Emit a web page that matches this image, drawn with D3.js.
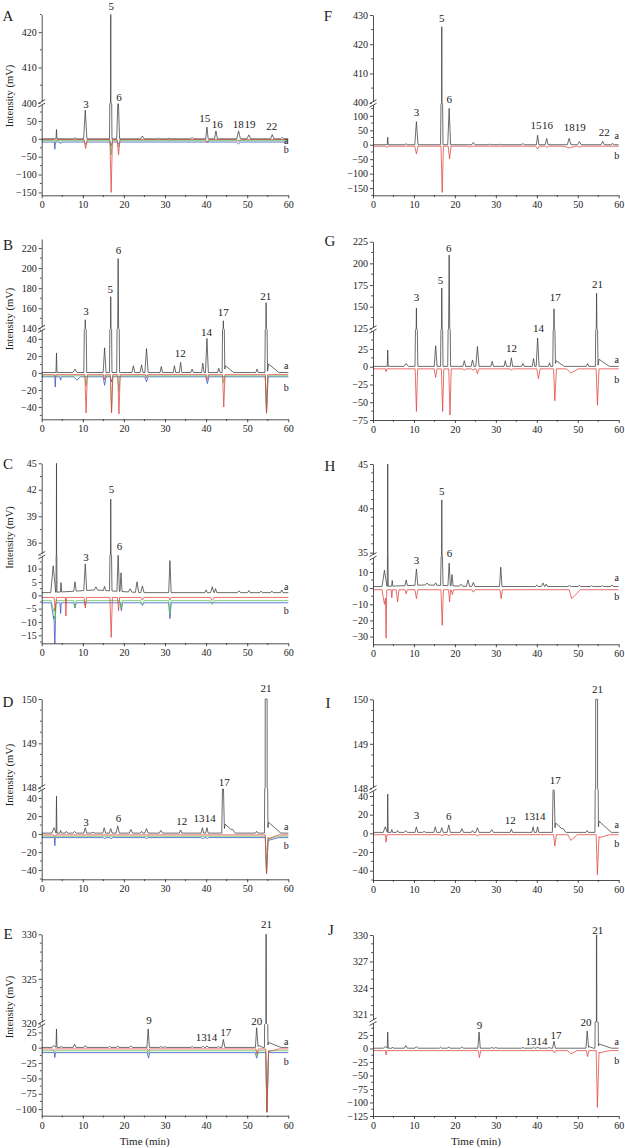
<!DOCTYPE html>
<html><head><meta charset="utf-8">
<script src="https://cdn.jsdelivr.net/npm/d3@7/dist/d3.min.js"></script>
<style>
body{margin:0;background:#fff}
svg{display:block}
text{font-family:"Liberation Serif","Times New Roman",serif;fill:#222}
</style></head>
<body><svg id="c" width="625" height="1148"></svg>
<script>
// ---------------- DATA ----------------
// peaks: [retention time (min), height (mV), left half-width (min), right half-width (min, optional)]
const timeTicks = [0, 10, 20, 30, 40, 50, 60];

// Sample of panels A/F (trace a)
const peaksAF_a = [[3.6,26,0.12],[8.1,3,0.4],[10.6,80,0.4],[16.8,426,0.3],[18.6,126,0.35],[24.5,8,0.4],[28.4,2,0.3],[31,2,0.3],[36.6,4,0.4],[40.2,33,0.3],[42.4,22,0.35],[47.9,22,0.45],[50.4,11,0.45],[56.1,12,0.4],[58.5,4,0.4]];
const peaksA_red = [[3.4,-4,0.3],[10.7,-25,0.4],[16.9,-148,0.3],[18.7,-43,0.35],[40.3,-9,0.4],[48,-6,0.6]];
const peaksA_green = [[3.3,-6,0.3],[10.7,-12,0.4],[16.9,-40,0.3],[18.7,-18,0.35],[40.3,-5,0.4]];
const peaksA_blue = [[3.2,-20,0.15],[4.6,-4,0.2],[10.7,-5,0.4],[16.9,-10,0.3],[18.7,-6,0.3],[47.9,-5,0.5]];
const peaksF_red = [[3.4,-5,0.3],[10.6,-27,0.4],[16.9,-160,0.3],[18.7,-44,0.35],[23.5,-3,0.4],[40.2,-10,0.4],[42.5,-5,0.4],[48,-6,1.5],[50.4,-4,0.5]];
const baseA = [0, -2, -5, -9];
const baseF = [0, -5];
const ticksA_low = [-150,-100,-50,0,50], ticksA_high = [400,410,420];
const ticksF_low = [-150,-100,-50,0,50,100], ticksF_high = [400,410,420,430];
const labelsA = [["5",16.9,6],["3",10.8,104],["6",18.8,97.3],["15",39.7,118.3],["16",42.7,124],["18",47.8,124],["19",50.7,124],["22",56,125.7]];
const labelsF = [["5",16.8,17.7],["3",10.6,111.7],["6",18.6,99],["15",39.8,125],["16",42.6,125],["18",47.9,126.7],["19",50.6,126.7],["22",56.5,131.7]];

// Sample of panels B/G
const peaksBG_a = [[3.6,23,0.12],[8.1,4,0.5],[10.6,148,0.35],[15.3,29,0.35],[16.8,171,0.3],[18.6,209,0.35],[22.3,8,0.35],[24.3,9,0.35],[25.5,28,0.4],[29.1,7,0.3],[32.3,8,0.3],[33.8,12,0.3],[36.6,4,0.3],[39.2,11,0.3],[40.2,40,0.35],[43.1,5,0.3],[44.2,147,0.3,0.35],[44.7,8,0.3,2],[52.4,4,0.3],[54.6,165,0.3,0.35],[55.2,10,0.3,2.5]];
const peaksB_red = [[3.3,-3,0.2],[10.8,-45,0.3],[15.3,-6,0.3],[17,-45,0.3],[18.8,-46,0.3],[25.5,-4,0.3],[40.3,-6,0.35],[44.3,-38,0.3],[54.7,-45,0.3]];
const peaksB_green = [[10.8,-12,0.3],[17,-42,0.3],[18.8,-18,0.3],[44.3,-8,0.3],[54.7,-44,0.3]];
const peaksB_blue = [[3.3,-12,0.12],[4.6,-4,0.2],[8.6,-4,0.8],[15.3,-10,0.35],[17,-6,0.3],[25.5,-6,0.4],[40.3,-8,0.4],[54.7,-42,0.3,0.4]];
const peaksG_red = [[3.2,-4,0.2],[10.6,-60,0.3],[15.3,-12,0.35],[17,-60,0.3],[18.8,-65,0.3],[22.3,-2,0.3],[24.4,-2,0.3],[25.5,-7,0.35],[33.8,-2,0.3],[40.4,-14,0.4],[44.4,-45,0.3,0.4],[48.3,-6,1,1.8],[54.8,-51,0.3,0.4]];
const baseB = [0.5, -2, -3.5, -4.5];
const baseG = [0.5, -3];
const ticksB_low = [-40,-20,0,20,40], ticksB_high = [140,160,180,200,220];
const ticksG_low = [-75,-50,-25,0,25], ticksG_high = [125,150,175,200,225];
const labelsB = [["3",10.8,310.7],["5",16.7,289],["6",18.7,250],["12",33.7,353.3],["14",40.1,332.3],["17",44.2,312.3],["21",54.5,295.7]];
const labelsG = [["3",10.6,296.7],["5",16.5,280],["6",18.5,248.3],["12",33.8,347.7],["14",40.4,327.7],["17",44.5,297.3],["21",54.8,284.3]];

// Sample of panels C/H
const peaksCH_a = [[2.8,10,0.6],[3.6,45,0.12],[4.7,3.5,0.15],[8.1,3.5,0.3],[10.6,10,0.35],[13,1,11],[13.2,1.2,0.4],[15.3,1.5,0.3],[16.8,39.3,0.3],[18.6,14,0.3],[19.3,7,0.25],[21.5,1.2,0.4],[23.2,4,0.4],[24.5,2.5,0.4],[31.2,12,0.3],[40,1,0.3],[41.5,2.2,0.4],[42.3,1.5,0.3],[48,0.7,0.4],[50.4,0.8,0.3],[53.4,0.6,0.3],[56,0.6,0.3],[58.4,1,0.3]];
const peaksC_red = [[3.3,-5,0.3],[5.9,-7,0.15],[10.6,-4,0.3],[16.9,-15,0.3],[18.7,-5,0.25],[24.5,-1,0.4],[31.2,-1,0.3],[41.5,-1.2,0.5]];
const peaksC_green = [[2.9,-4,0.6],[3.3,-6,0.2],[8.1,-2.5,0.3],[10.6,-2,0.3],[19.3,-3,0.3],[24.5,-1.5,0.4],[31.2,-5,0.3],[41.5,-1.5,0.5]];
const peaksC_blue = [[2.9,-6,0.6],[3.2,-16,0.2],[4.6,-4,0.15],[8.1,-2,0.3],[19.4,-3,0.25],[24.5,-1,0.4],[31.2,-6,0.3]];
const peaksH_red = [[2.8,-9,0.6],[3.2,-27,0.15],[4.6,-5,0.15],[6,-7.5,0.35],[8.1,-2.5,0.3],[10.6,-5.5,0.35],[16.9,-22,0.3],[18.7,-7.5,0.25],[19.4,-3,0.3],[24.5,-1.5,0.4],[31.3,-5.5,0.3],[48.5,-5.5,0.6,2.2]];
const baseC = [1, -0.8, -2, -2.8];
const baseH = [1, -1];
const ticksC_low = [-15,-10,-5,0,5,10], ticksC_high = [36,39,42,45];
const ticksH_low = [-30,-20,-10,0,10], ticksH_high = [35,40,45];
const labelsC = [["5",17,489],["3",10.8,556.7],["6",18.9,546]];
const labelsH = [["5",16.8,490.7],["3",10.6,560],["6",18.7,553.3]];

// Sample of panels D/I
const peaksDI_a = [[3,6,0.5],[3.6,41,0.1],[4.6,3,0.2],[6,2,0.3],[8,2,0.4],[10.6,6,0.35],[12.5,1,0.4],[15.2,6,0.35],[16.8,5,0.35],[18.5,8,0.4],[21.7,4,0.4],[24.3,2,0.3],[25.5,5,0.4],[29,3,0.4],[33.8,3.5,0.3],[39.1,6,0.3],[40.2,6,0.3],[44.1,80,0.3,0.35],[44.6,10,0.3,2.5],[46.5,1.5,0.5],[52.3,2,0.3],[54.6,330,0.4,0.45],[55.2,12,0.3,3]];
const peaksD_red = [[3.2,-2,0.3],[54.7,-43,0.3,0.4],[55.2,-4,0.3,2.5]];
const peaksD_green = [[3.2,-2,0.3],[54.7,-42,0.3,0.4],[55.2,-3,0.3,2.5]];
const peaksD_blue = [[3.2,-9,0.12],[15.3,-1.5,0.3],[16.9,-1.5,0.3],[25.5,-1.5,0.3],[39.2,-1.5,0.3],[40.3,-1.5,0.3],[54.7,-40,0.3,0.4],[55.2,-3,0.3,2.5]];
const peaksI_red = [[3.2,-8,0.2],[16.8,-1.5,0.3],[18.5,-1.5,0.3],[25.5,-1.5,0.3],[44.4,-12,0.3,0.4],[48.3,-6,0.7,1.6],[54.8,-43,0.3,0.4],[55.3,-3,0.3,2.5]];
const baseD = [1, -1, -2.5, -4];
const baseI = [1, -1.5];
const ticksD_low = [-40,-20,0,20,40], ticksD_high = [148,149,150];
const ticksI_low = [-40,-20,0,20,40], ticksI_high = [148,149,150];
const labelsD = [["21",54.6,688.3],["17",44.4,781.7],["3",10.8,821.7],["6",18.7,818.3],["12",34.1,821],["13",38.3,818.3],["14",41,818.3]];
const labelsI = [["21",54.8,689.3],["17",44.5,780],["3",10.6,815],["6",18.5,816],["12",33.5,820],["13",38.2,816],["14",40.8,816]];

// Sample of panels E/J
const peaksEJ_a = [[3,3,0.5],[3.6,30,0.12],[4.8,2,0.2],[8,5,0.35],[10.6,3,0.35],[16.5,2,0.3],[18.5,2.5,0.3],[21.7,2.5,0.35],[25.9,30,0.3],[29,1.5,0.3],[30,1.5,0.3],[36.6,1.5,0.3],[39.2,2,0.3],[40.2,2.5,0.3],[43,1.5,0.3],[44.2,13,0.35],[52.3,32,0.3,0.35],[52.8,3,0.3,1],[54.6,360,0.4,0.45],[55.2,8,0.3,3]];
const peaksE_red = [[3,-3,0.4],[26,-4,0.3],[52.4,-8,0.3],[54.8,-103,0.3,0.4],[55.3,-4,0.3,2.5]];
const peaksE_green = [[3.2,-3,0.3],[26,-5,0.3],[52.4,-8,0.3],[54.8,-100,0.3,0.4]];
const peaksE_blue = [[3.2,-8,0.15],[26,-9,0.3],[52.3,-9,0.35],[54.8,-97,0.3,0.4]];
const peaksJ_red = [[3.2,-8,0.15],[26,-13,0.3],[44.3,-4,0.3],[48.3,-6,0.8,1.5],[52.4,-11,0.3],[54.8,-105,0.3,0.4],[55.3,-4,0.3,2.5]];
const baseE = [0.5, -2, -5, -8];
const baseJ = [0.5, -4];
const ticksE_low = [-100,-75,-50,-25,0,25], ticksE_high = [320,325,330];
const ticksJ_low = [-125,-100,-75,-50,-25,0,25], ticksJ_high = [321,324,327,330];
const labelsE = [["21",54.7,924],["9",26.1,1020],["13",38.8,1037.3],["14",41.4,1037.3],["17",44.8,1032.3],["20",52.3,1020.7]];
const labelsJ = [["21",54.9,930],["9",26,1025],["13",38.6,1041],["14",41.3,1041],["17",44.7,1035],["20",52,1022.3]];

// ---------------- LAYOUT ----------------
const L = {x0:41.7, x1:288.3}, R = {x0:373, x1:618.7};
const COL = {a:'#3c3c3c', red:'#e0403c', green:'#55c455', blue:'#3050c4'};
const panels = [
 {id:'A', side:L, dom:[-158,98,400,425], rng:[195.3,103.8,102.8,14.5], minor:[25,5], letter:[8,16], title:96, ab:[141,149.3],
  ticksLow:ticksA_low, ticksHigh:ticksA_high, labels:labelsA,
  traces:[[peaksA_blue,baseA[3],COL.blue],[peaksA_green,baseA[2],COL.green],[peaksA_red,baseA[1],COL.red],[peaksAF_a,baseA[0],COL.a]]},
 {id:'F', side:R, dom:[-175,140,400,430], rng:[195.3,104.3,102.7,15], minor:[25,5], letter:[328,16], ab:[136,155],
  ticksLow:ticksF_low, ticksHigh:ticksF_high, labels:labelsF,
  traces:[[peaksF_red,baseF[1],COL.red],[peaksAF_a,baseF[0],COL.a]]},
 {id:'B', side:L, dom:[-54.4,51,140,229], rng:[419.3,329.5,328.3,239], minor:[10,10], letter:[8,245], title:319, ab:[365.7,387],
  ticksLow:ticksB_low, ticksHigh:ticksB_high, labels:labelsB,
  traces:[[peaksB_blue,baseB[3],COL.blue],[peaksB_green,baseB[2],COL.green],[peaksB_red,baseB[1],COL.red],[peaksBG_a,baseB[0],COL.a]]},
 {id:'G', side:R, dom:[-75,51,125,225], rng:[420,330.5,328.3,241.7], minor:[12.5,12.5], letter:[330,241], ab:[360,379],
  ticksLow:ticksG_low, ticksHigh:ticksG_high, labels:labelsG,
  traces:[[peaksG_red,baseG[1],COL.red],[peaksBG_a,baseG[0],COL.a]]},
 {id:'C', side:L, dom:[-18,15,34.6,45], rng:[643.3,555.3,555.1,463.3], minor:[2.5,1.5], letter:[8,464], title:537.5, ab:[587.3,610.7],
  ticksLow:ticksC_low, ticksHigh:ticksC_high, labels:labelsC,
  traces:[[peaksC_blue,baseC[3],COL.blue],[peaksC_green,baseC[2],COL.green],[peaksC_red,baseC[1],COL.red],[peaksCH_a,baseC[0],COL.a]]},
 {id:'H', side:R, dom:[-34.8,19.6,34.6,45], rng:[644.3,556.5,556.2,464], minor:[5,1], letter:[330,466], ab:[578.3,596.7],
  ticksLow:ticksH_low, ticksHigh:ticksH_high, labels:labelsH,
  traces:[[peaksH_red,baseH[1],COL.red],[peaksCH_a,baseH[0],COL.a]]},
 {id:'D', side:L, dom:[-50.3,50,148,150], rng:[879.3,789,787.7,699], minor:[10,0.25], letter:[8,701.7], title:775, ab:[826.7,845.3],
  ticksLow:ticksD_low, ticksHigh:ticksD_high, labels:labelsD,
  traces:[[peaksD_blue,baseD[3],COL.blue],[peaksD_green,baseD[2],COL.green],[peaksD_red,baseD[1],COL.red],[peaksDI_a,baseD[0],COL.a]]},
 {id:'I', side:R, dom:[-50,46,148,150], rng:[880,790.4,788.3,699.3], minor:[10,0.25], letter:[328,702.7], ab:[825,843.3],
  ticksLow:ticksI_low, ticksHigh:ticksI_high, labels:labelsI,
  traces:[[peaksI_red,baseI[1],COL.red],[peaksDI_a,baseI[0],COL.a]]},
 {id:'E', side:L, dom:[-110.7,37.8,320,330], rng:[1115.7,1024.5,1023.3,934.3], minor:[12.5,1], letter:[8,933.3], title:1007, ab:[1041.7,1061.7], xtitle:144.7,
  ticksLow:ticksE_low, ticksHigh:ticksE_high, labels:labelsE,
  traces:[[peaksE_blue,baseE[3],COL.blue],[peaksE_green,baseE[2],COL.green],[peaksE_red,baseE[1],COL.red],[peaksEJ_a,baseE[0],COL.a]]},
 {id:'J', side:R, dom:[-125,49,320.2,330], rng:[1116,1022,1021.5,935], minor:[12.5,1], letter:[331,930], ab:[1041.7,1060], xtitle:476,
  ticksLow:ticksJ_low, ticksHigh:ticksJ_high, labels:labelsJ,
  traces:[[peaksJ_red,baseJ[1],COL.red],[peaksEJ_a,baseJ[0],COL.a]]}
];

// ---------------- DRAW ----------------
const svg = d3.select('#c');

function tracePoints(peaks, base) {
  let ts = new Set([0, 60]);
  peaks.forEach(([t,h,wl,wr]) => { wr = wr ?? wl; ts.add(t-wl); ts.add(t); ts.add(t+wr); });
  ts = [...ts].filter(t => t >= 0 && t <= 60).sort((a,b) => a-b);
  return ts.map(t => [t, base + peaks.reduce((s,[pt,h,wl,wr]) => {
    wr = wr ?? wl;
    if (t <= pt-wl || t >= pt+wr) return s;
    return s + h * (t < pt ? (t-(pt-wl))/wl : ((pt+wr)-t)/wr);
  }, 0)]);
}
function splitAt(pts, levels) {
  const out = [pts[0]];
  for (let i = 1; i < pts.length; i++) {
    const [t0,v0] = pts[i-1], [t1,v1] = pts[i];
    const cr = levels.filter(l => (v0-l)*(v1-l) < 0)
      .map(l => [t0 + (l-v0)/(v1-v0)*(t1-t0), l]).sort((a,b) => a[0]-b[0]);
    out.push(...cr, pts[i]);
  }
  return out;
}
function minorTicks(lo, hi, step, majors) {
  const r = [];
  for (let v = Math.ceil(lo/step - 1e-9)*step; v <= hi + 1e-9; v += step) {
    if (!majors.some(m => Math.abs(m-v) < 1e-6)) r.push(+v.toFixed(4));
  }
  return r;
}

panels.forEach(p => {
  const g = svg.append('g');
  const x = d3.scaleLinear().domain([0,60]).range([p.side.x0, p.side.x1]);
  const y = d3.scaleLinear().domain(p.dom).range(p.rng).clamp(true);
  const line = d3.line().x(d => x(d[0])).y(d => y(d[1]));
  const yAxisBottom = p.rng[0];

  p.traces.forEach(([peaks, base, color]) => {
    const pts = splitAt(tracePoints(peaks, base), p.dom);
    g.append('path').attr('d', line(pts)).attr('fill','none')
      .attr('stroke', color).attr('stroke-width', 0.75).attr('stroke-linejoin','round');
  });

  // y axis
  const ya = g.append('g').attr('transform', `translate(${p.side.x0},0)`);
  ya.call(d3.axisLeft(y).tickValues([...p.ticksLow, ...p.ticksHigh]).tickSize(3).tickSizeOuter(0).tickPadding(2));
  const yMinor = [...minorTicks(p.dom[0], p.dom[1], p.minor[0], p.ticksLow), ...minorTicks(p.dom[2], p.dom[3], p.minor[1], p.ticksHigh)];
  ya.append('g').selectAll('line').data(yMinor).join('line')
    .attr('x1', -1.8).attr('x2', 0).attr('y1', d => y(d)).attr('y2', d => y(d)).attr('stroke','#222').attr('stroke-width',0.8);
  // x axis
  const xa = g.append('g').attr('transform', `translate(0,${yAxisBottom})`);
  xa.call(d3.axisBottom(x).tickValues(timeTicks).tickSize(3).tickSizeOuter(0).tickPadding(3).tickFormat(d3.format('d')));
  xa.append('g').selectAll('line').data(minorTicks(0, 60, 5, timeTicks)).join('line')
    .attr('x1', d => x(d)).attr('x2', d => x(d)).attr('y1', 0).attr('y2', 1.8).attr('stroke','#222').attr('stroke-width',0.8);
  [ya, xa].forEach(a => {
    a.attr('font-family', null).attr('font-size', null);
    a.selectAll('text').style('font-size','10px').style('font-family','"Liberation Serif",serif').attr('fill','#222');
    a.selectAll('path,line').attr('stroke','#222').attr('stroke-width',0.8);
  });

  // axis break marks
  const by = (p.rng[1] + p.rng[2]) / 2, bx = p.side.x0;
  g.append('rect').attr('x', bx-1).attr('y', by-1.8).attr('width', 2).attr('height', 3.6).attr('fill','#fff');
  [-1.8, 1.8].forEach(o => g.append('line')
    .attr('x1', bx-3.5).attr('y1', by+o+2).attr('x2', bx+3.5).attr('y2', by+o-2)
    .attr('stroke','#222').attr('stroke-width',0.8));

  // peak labels
  g.selectAll('text.pk').data(p.labels).join('text').attr('class','pk')
    .attr('x', d => x(d[1])).attr('y', d => d[2]).attr('dy','0.35em')
    .attr('text-anchor','middle').style('font-size','11px').text(d => d[0]);

  // a / b labels
  g.append('text').attr('x', p.side.x1 - 2).attr('y', p.ab[0]).attr('dy','0.3em').attr('text-anchor','middle').style('font-size','10px').text('a');
  g.append('text').attr('x', p.side.x1 - 2).attr('y', p.ab[1]).attr('dy','0.35em').attr('text-anchor','middle').style('font-size','10px').text('b');

  // panel letter
  g.append('text').attr('x', p.letter[0]).attr('y', p.letter[1]).attr('dy','0.35em')
    .attr('text-anchor','middle').style('font-size','15px').text(p.id);

  // y title
  if (p.title !== undefined) {
    g.append('text').attr('transform', `translate(9,${p.title}) rotate(-90)`).attr('dy','0.35em')
      .attr('text-anchor','middle').style('font-size','10.6px').text('Intensity (mV)');
  }
  if (p.xtitle !== undefined) {
    g.append('text').attr('x', p.xtitle).attr('y', 1141).attr('dy','0.35em')
      .attr('text-anchor','middle').style('font-size','11px').text('Time (min)');
  }
});
</script></body></html>
